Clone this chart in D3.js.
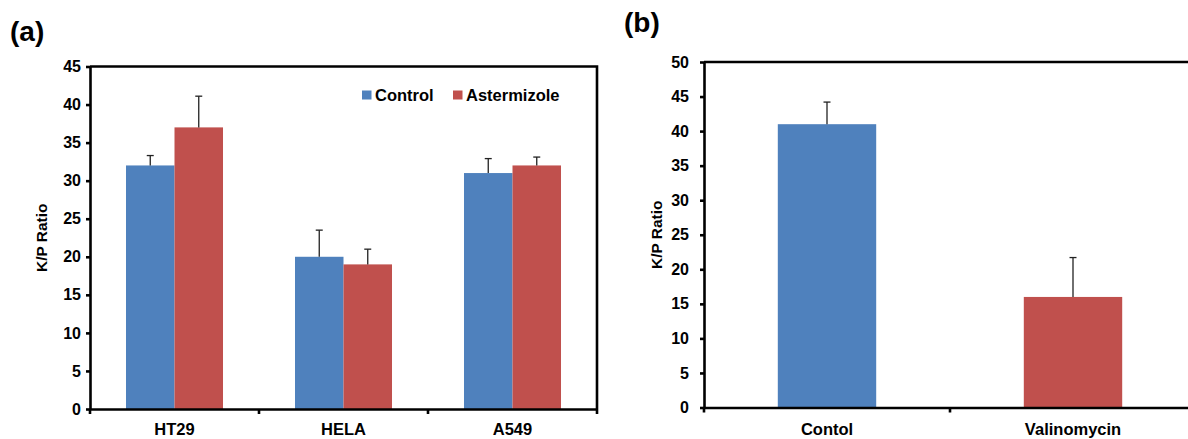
<!DOCTYPE html>
<html>
<head>
<meta charset="utf-8">
<script src="https://cdn.jsdelivr.net/npm/d3@7"></script>
<style>
  html, body { margin: 0; padding: 0; background: #fff; }
  svg { display: block; font-family: "Liberation Sans", Arial, sans-serif; font-weight: bold; }
</style>
</head>
<body>
<svg id="fig" width="1188" height="439"></svg>
<script>
// Panel (a): K/P ratio per cell line, control vs astemizole
const cellLines = ["HT29", "HELA", "A549"];
const seriesNames = ["Control", "Astermizole"];
const controlMean = [32, 20, 31];
const controlErr = [1.3, 3.5, 1.9];
const astermizoleMean = [37, 19, 32];
const astermizoleErr = [4.1, 2.0, 1.1];
const ticksA = [0, 5, 10, 15, 20, 25, 30, 35, 40, 45];

// Panel (b): K/P ratio, control vs valinomycin
const treatments = ["Contol", "Valinomycin"];
const treatmentMean = [41, 16];
const treatmentErr = [3.2, 5.7];
const ticksB = [0, 5, 10, 15, 20, 25, 30, 35, 40, 45, 50];

const blue = "#4f81bd";
const red = "#c0504d";
const svg = d3.select("#fig");

function styleAxis(g, size) {
  g.attr("font-family", null).attr("font-size", null);
  g.selectAll("path").attr("stroke", "#000").attr("stroke-width", 2.6);
  g.selectAll("line").attr("stroke", "#000").attr("stroke-width", 2.6);
  g.selectAll("text").attr("fill", "#000").attr("font-size", size).attr("font-weight", "bold")
    .attr("font-family", "'Liberation Sans', Arial, sans-serif");
}

function errorBar(g, x, yTop, yBase) {
  g.append("line").attr("x1", x).attr("x2", x).attr("y1", yBase).attr("y2", yTop)
    .attr("stroke", "#222").attr("stroke-width", 1.3);
  g.append("line").attr("x1", x - 3.5).attr("x2", x + 3.5).attr("y1", yTop).attr("y2", yTop)
    .attr("stroke", "#222").attr("stroke-width", 1.3);
}

// ---------- Panel (a) ----------
{
  const left = 90, right = 597, top = 66.5, bottom = 409;
  const x0 = d3.scaleBand().domain(cellLines).range([left, right]).paddingInner(0).paddingOuter(0);
  const x1 = d3.scaleBand().domain(seriesNames).range([0, x0.bandwidth() * 0.574]).padding(0);
  const y = d3.scaleLinear().domain([0, 45]).range([bottom, top]);
  const groupOffset = (x0.bandwidth() - x1.range()[1]) / 2;

  const rows = cellLines.map((c, i) => ({
    cat: c,
    vals: [
      { s: "Control", v: controlMean[i], e: controlErr[i], c: blue },
      { s: "Astermizole", v: astermizoleMean[i], e: astermizoleErr[i], c: red }
    ]
  }));

  const gBars = svg.append("g");
  rows.forEach(r => {
    r.vals.forEach(d => {
      const bx = x0(r.cat) + groupOffset + x1(d.s);
      gBars.append("rect")
        .attr("x", bx).attr("y", y(d.v))
        .attr("width", x1.bandwidth()).attr("height", y(0) - y(d.v))
        .attr("fill", d.c);
    });
  });
  rows.forEach(r => {
    r.vals.forEach(d => {
      const cx = x0(r.cat) + groupOffset + x1(d.s) + x1.bandwidth() / 2;
      errorBar(gBars, cx, y(d.v + d.e), y(d.v));
    });
  });

  // frame: top and right edges
  svg.append("path")
    .attr("d", `M${left},${top} H${right} V${bottom}`)
    .attr("fill", "none").attr("stroke", "#000").attr("stroke-width", 2.6);

  const yAxis = svg.append("g").attr("transform", `translate(${left},0)`)
    .call(d3.axisLeft(y).tickValues(ticksA).tickSize(4).tickPadding(5).tickSizeOuter(0));
  styleAxis(yAxis, 16);

  const xAxis = svg.append("g").attr("transform", `translate(0,${bottom})`)
    .call(d3.axisBottom(x0).tickSize(0).tickPadding(14).tickSizeOuter(0));
  styleAxis(xAxis, 16.5);
  // category separators
  xAxis.selectAll(".sep").data(d3.range(cellLines.length + 1)).enter().append("line")
    .attr("x1", i => left + i * x0.bandwidth()).attr("x2", i => left + i * x0.bandwidth())
    .attr("y1", 0).attr("y2", 5).attr("stroke", "#000").attr("stroke-width", 2.6);

  // legend
  const leg = svg.append("g").attr("font-size", 16.5);
  const legItems = [{ s: "Control", c: blue, x: 362 }, { s: "Astermizole", c: red, x: 453 }];
  legItems.forEach(it => {
    leg.append("rect").attr("x", it.x).attr("y", 90.5).attr("width", 9.5).attr("height", 9).attr("fill", it.c);
    leg.append("text").attr("x", it.x + 13).attr("y", 100.5).text(it.s);
  });

  svg.append("text")
    .attr("transform", `translate(47,${(top + bottom) / 2}) rotate(-90)`)
    .attr("text-anchor", "middle").attr("font-size", 15.5).text("K/P Ratio");

  svg.append("text").attr("x", 10).attr("y", 41).attr("font-size", 28).text("(a)");
}

// ---------- Panel (b) ----------
{
  const left = 704, right = 1196, top = 62, bottom = 407.5;
  const x = d3.scaleBand().domain(treatments).range([left, right]).padding(0);
  const y = d3.scaleLinear().domain([0, 50]).range([bottom, top]);
  const bw = x.bandwidth() * 0.4;
  const colors = [blue, red];

  const gBars = svg.append("g");
  treatments.forEach((t, i) => {
    gBars.append("rect")
      .attr("x", x(t) + (x.bandwidth() - bw) / 2).attr("y", y(treatmentMean[i]))
      .attr("width", bw).attr("height", y(0) - y(treatmentMean[i]))
      .attr("fill", colors[i]);
  });
  treatments.forEach((t, i) => {
    errorBar(gBars, x(t) + x.bandwidth() / 2, y(treatmentMean[i] + treatmentErr[i]), y(treatmentMean[i]));
  });

  svg.append("path")
    .attr("d", `M${left},${top} H${right}`)
    .attr("fill", "none").attr("stroke", "#000").attr("stroke-width", 2.6);

  const yAxis = svg.append("g").attr("transform", `translate(${left},0)`)
    .call(d3.axisLeft(y).tickValues(ticksB).tickSize(4).tickPadding(11).tickSizeOuter(0));
  styleAxis(yAxis, 16);

  const xAxis = svg.append("g").attr("transform", `translate(0,${bottom})`)
    .call(d3.axisBottom(x).tickSize(0).tickPadding(16).tickSizeOuter(0));
  styleAxis(xAxis, 16.5);
  xAxis.selectAll(".sep").data(d3.range(treatments.length + 1)).enter().append("line")
    .attr("x1", i => left + i * x.bandwidth()).attr("x2", i => left + i * x.bandwidth())
    .attr("y1", 0).attr("y2", 5).attr("stroke", "#000").attr("stroke-width", 2.6);

  svg.append("text")
    .attr("transform", `translate(662,${(top + bottom) / 2}) rotate(-90)`)
    .attr("text-anchor", "middle").attr("font-size", 15.5).text("K/P Ratio");

  svg.append("text").attr("x", 624).attr("y", 32).attr("font-size", 28).text("(b)");
}
</script>
</body>
</html>
